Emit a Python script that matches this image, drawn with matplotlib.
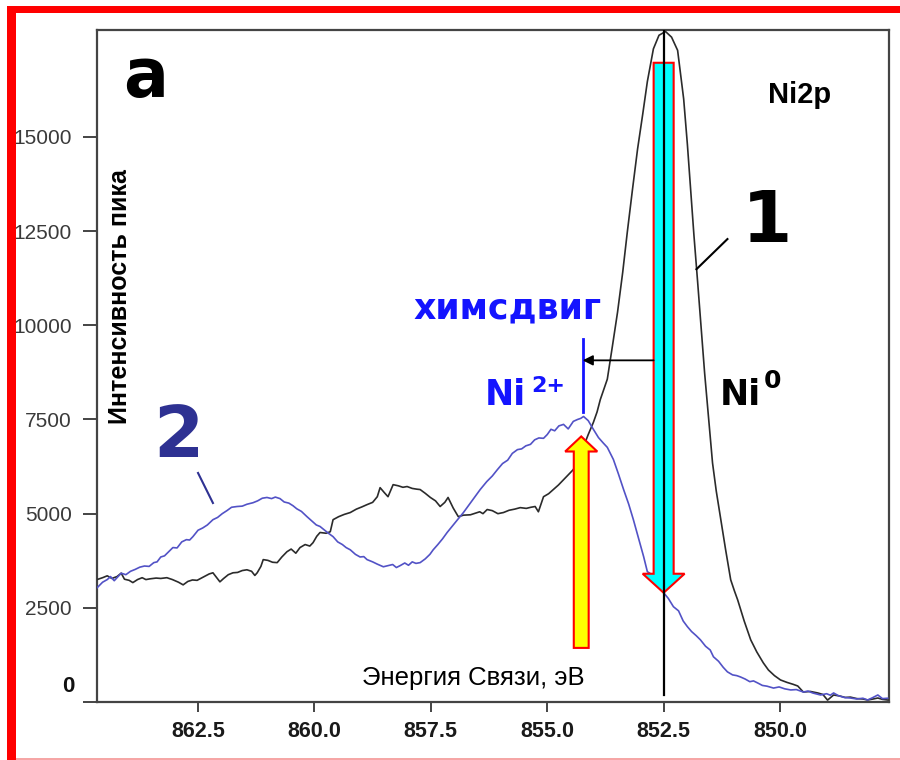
import numpy as np
import matplotlib
matplotlib.use("Agg")
import matplotlib.pyplot as plt
from matplotlib.patches import FancyArrow, Rectangle

# Ni2p spectra: binding energy (eV) and peak intensity
# curve 1 - metallic Ni, curve 2 - oxidised sample
energy_1 = [
    864.67, 864.55, 864.45, 864.35, 864.24, 864.15, 864.08, 863.98, 863.90, 863.80,
    863.70, 863.62, 863.53, 863.40, 863.30, 863.17, 863.05, 862.92, 862.82, 862.72,
    862.62, 862.52, 862.46, 862.35, 862.26, 862.18, 862.10, 862.03, 861.95, 861.85,
    861.75, 861.65, 861.55, 861.45, 861.35, 861.28, 861.23, 861.15, 861.10, 861.00,
    860.90, 860.80, 860.70, 860.59, 860.50, 860.40, 860.31, 860.20, 860.10, 860.03,
    859.95, 859.88, 859.75, 859.66, 859.60, 859.48, 859.36, 859.23, 859.10, 858.98,
    858.87, 858.75, 858.65, 858.59, 858.50, 858.42, 858.31, 858.20, 858.10, 858.01,
    857.90, 857.80, 857.73, 857.62, 857.51, 857.40, 857.30, 857.20, 857.13, 857.02,
    856.91, 856.80, 856.65, 856.55, 856.45, 856.38, 856.29, 856.18, 856.06, 855.94,
    855.82, 855.70, 855.58, 855.45, 855.35, 855.26, 855.19, 855.08, 854.97, 854.87,
    854.76, 854.65, 854.55, 854.44, 854.33, 854.22, 854.12, 854.01, 853.93, 853.86,
    853.71, 853.60, 853.49, 853.38, 853.28, 853.17, 853.06, 852.95, 852.85, 852.72,
    852.60, 852.46, 852.33, 852.20, 852.07, 851.99, 851.92, 851.85, 851.77, 851.62,
    851.45, 851.37, 851.28, 851.17, 851.06, 850.98, 850.91, 850.77, 850.63, 850.50,
    850.36, 850.25, 850.12, 849.99, 849.85, 849.72, 849.62, 849.50, 849.35, 849.19,
    849.08, 848.98, 848.85, 848.72, 848.60, 848.49, 848.35, 848.22, 848.12, 848.00,
    847.90, 847.80, 847.69]
intensity_1 = [
    3250, 3300, 3350, 3280, 3330, 3420, 3260, 3230, 3170, 3250,
    3300, 3250, 3270, 3290, 3280, 3300, 3250, 3180, 3110, 3200,
    3240, 3230, 3270, 3340, 3400, 3430, 3300, 3190, 3280, 3380,
    3430, 3440, 3490, 3510, 3470, 3360, 3430, 3600, 3780, 3760,
    3710, 3700, 3850, 3990, 4060, 3950, 4100, 4180, 4140, 4230,
    4400, 4500, 4480, 4520, 4840, 4920, 4980, 5030, 5120, 5180,
    5240, 5300, 5450, 5690, 5560, 5450, 5770, 5740, 5700, 5720,
    5670, 5650, 5640, 5540, 5430, 5340, 5190, 5300, 5430, 5150,
    4920, 4960, 4970, 5010, 5050, 5000, 5110, 5080, 5000, 5030,
    5090, 5120, 5160, 5140, 5170, 5190, 5050, 5450, 5530, 5640,
    5760, 5900, 6030, 6170, 6450, 6780, 7100, 7420, 7700, 8030,
    8570, 9450, 10350, 11400, 12480, 13600, 14680, 15600, 16470, 17340,
    17700, 17800, 17650, 17300, 16010, 14800, 13590, 12400, 11150, 8735,
    6345, 5600, 4900, 4050, 3245, 2950, 2710, 2150, 1650, 1330,
    1040, 850, 700, 585, 520, 470, 425, 265, 280, 240,
    200, 50, 186, 160, 120, 130, 90, 80, 53, 80,
    106, 70, 53]

energy_2 = [
    864.67, 864.55, 864.45, 864.38, 864.30, 864.24, 864.15, 864.05, 863.95, 863.85,
    863.75, 863.65, 863.55, 863.45, 863.38, 863.30, 863.22, 863.12, 863.04, 862.95,
    862.85, 862.75, 862.68, 862.61, 862.50, 862.40, 862.30, 862.18, 862.08, 861.98,
    861.88, 861.78, 861.66, 861.55, 861.45, 861.32, 861.22, 861.12, 861.02, 860.92,
    860.84, 860.74, 860.65, 860.55, 860.46, 860.38, 860.28, 860.16, 860.05, 859.96,
    859.88, 859.78, 859.70, 859.60, 859.50, 859.40, 859.32, 859.23, 859.12, 859.02,
    858.94, 858.87, 858.75, 858.65, 858.52, 858.42, 858.32, 858.24, 858.16, 858.06,
    857.98, 857.90, 857.82, 857.73, 857.62, 857.52, 857.45, 857.35, 857.25, 857.15,
    857.02, 856.92, 856.80, 856.70, 856.58, 856.44, 856.30, 856.18, 856.07, 855.96,
    855.85, 855.75, 855.64, 855.55, 855.46, 855.36, 855.27, 855.18, 855.08, 855.00,
    854.92, 854.84, 854.75, 854.65, 854.55, 854.44, 854.35, 854.28, 854.22, 854.12,
    854.01, 853.90, 853.80, 853.71, 853.58, 853.47, 853.36, 853.25, 853.15, 853.04,
    852.93, 852.85, 852.75, 852.63, 852.56, 852.50, 852.40, 852.29, 852.18, 852.08,
    851.99, 851.90, 851.80, 851.71, 851.60, 851.50, 851.43, 851.32, 851.22, 851.13,
    851.02, 850.93, 850.85, 850.75, 850.65, 850.57, 850.48, 850.38, 850.28, 850.14,
    850.02, 849.90, 849.77, 849.65, 849.50, 849.40, 849.30, 849.13, 849.00, 848.92,
    848.85, 848.75, 848.62, 848.49, 848.35, 848.22, 848.12, 848.02, 847.90, 847.80,
    847.69]
intensity_2 = [
    3030, 3180, 3250, 3330, 3220, 3300, 3420, 3380, 3470, 3520,
    3580, 3610, 3600, 3700, 3720, 3850, 3880, 4000, 4100, 4090,
    4250, 4310, 4300, 4390, 4560, 4620, 4700, 4840, 4900, 5000,
    5080, 5170, 5190, 5200, 5250, 5290, 5340, 5410, 5430, 5400,
    5440, 5400, 5310, 5280, 5210, 5130, 5060, 4920, 4800, 4700,
    4660, 4560, 4480, 4390, 4250, 4180, 4100, 4040, 3920, 3850,
    3860, 3780, 3720, 3660, 3590, 3620, 3650, 3570, 3620, 3690,
    3630, 3720, 3680, 3700, 3800, 3920, 4040, 4180, 4330, 4500,
    4700, 4850, 5030, 5200, 5400, 5640, 5850, 6000, 6170, 6330,
    6420, 6600, 6700, 6720, 6800, 6840, 6960, 7010, 7000, 7100,
    7240, 7200, 7330, 7370, 7250, 7450, 7500, 7530, 7580, 7470,
    7240, 7020, 6880, 6760, 6440, 6050, 5640, 5250, 4840, 4350,
    3860, 3460, 3380, 3330, 3100, 2900, 2750, 2530, 2420, 2150,
    2000, 1870, 1760, 1650, 1480, 1380, 1200, 1080, 920, 800,
    720, 700, 665, 610, 540, 560, 505, 440, 420, 370,
    400, 350, 320, 330, 265, 290, 240, 186, 220, 180,
    240, 170, 120, 106, 80, 100, 53, 110, 186, 90,
    100]

x_ticks = [862.5, 860.0, 857.5, 855.0, 852.5, 850.0]
y_ticks = [0, 2500, 5000, 7500, 10000, 12500, 15000]
x_range = (864.67, 847.66)
y_range = (0, 17840)

e_ni0 = 852.5     # Ni0 peak
e_ni2 = 854.24    # Ni2+ maximum of curve 2
shift_level = 9070
yellow_from, yellow_to = 1436, 7050
cyan_from = 16970

c_black = "#2b2b2b"
c_blue = "#5252c6"
c_dark_blue = "#2e3192"
c_bright_blue = "#1414ff"
comic = "DejaVu Sans"
arial = "Liberation Sans"

fig = plt.figure(figsize=(9, 7.6), dpi=100)
ax = fig.add_axes([97 / 900, 1 - 702 / 760, 792 / 900, 672 / 760])

ax.plot(energy_1, intensity_1, color=c_black, lw=1.2, zorder=3)
ax.plot(energy_2, intensity_2, color=c_blue, lw=1.2, zorder=3)

ax.set_xlim(*x_range)
ax.set_ylim(*y_range)
ax.set_xticks(x_ticks)
ax.set_xticklabels(["%.1f" % v for v in x_ticks], fontfamily=arial,
                   fontweight="bold", fontsize=15.5, color="#1a1a1a")
ax.set_yticks(y_ticks)
ax.set_yticklabels([""] + [str(v) for v in y_ticks[1:]], fontfamily=arial,
                   fontsize=15, color="#3a3a3a")
ax.tick_params(axis="x", direction="out", length=7.2, width=1.4,
               color="#444444", pad=6.5)
ax.tick_params(axis="y", direction="out", length=10, width=1.4,
               color="#444444", pad=8)
for s in ax.spines.values():
    s.set_color("#444444")
    s.set_linewidth(1.6)

# zero label sits a little above its tick, in bold
ax.annotate("0", xy=(0, 0), xycoords=("axes fraction", "data"),
            xytext=(-20.9, 10.8), textcoords="offset points",
            ha="center", va="center", fontfamily=arial, fontweight="bold",
            fontsize=16, color="#111111", annotation_clip=False)

# block arrows: Ni0 (cyan, down) and Ni2+ (yellow, up)
cyan_tip = np.interp(e_ni0, energy_2[::-1], intensity_2[::-1])
ax.add_patch(FancyArrow(e_ni0, cyan_from, 0, cyan_tip - cyan_from,
                        width=0.43, head_width=0.90, head_length=505,
                        length_includes_head=True, fc="#00ffff", ec="red",
                        lw=1.5, zorder=4))
ax.add_patch(FancyArrow(e_ni2 + 0.03, yellow_from, 0, yellow_to - yellow_from,
                        width=0.32, head_width=0.69, head_length=400,
                        length_includes_head=True, fc="#ffff00", ec="red",
                        lw=1.5, zorder=4))
ax.plot([e_ni0, e_ni0], [186, y_range[1]], color="black", lw=1.6, zorder=5)

# chemical shift marker
ax.plot([e_ni2, e_ni2], [7690, 9650], color=c_bright_blue, lw=2, zorder=5)
ax.annotate("", xy=(e_ni2, shift_level), xytext=(852.715, shift_level),
            arrowprops=dict(arrowstyle="-|>", color="black", lw=1.3,
                            mutation_scale=15, shrinkA=0, shrinkB=0),
            zorder=5)

# leader lines for curve numbers
ax.plot([851.13, 851.795], [12290, 11490], color="black", lw=1.5, zorder=5)
ax.plot([862.5, 862.18], [6080, 5283], color=c_dark_blue, lw=1.5, zorder=5)

tr = ax.transAxes
ax.text(0.0619, 0.9003, "а", transform=tr, ha="center", va="baseline",
        fontfamily=comic, fontweight="bold", fontsize=48, color="black")
ax.text(0.8472, 0.8914, "Ni2p", transform=tr, ha="left", va="baseline",
        fontfamily=arial, fontweight="bold", fontsize=21, color="black")
ax.text(0.8460, 0.6845, "1", transform=tr, ha="center", va="baseline",
        fontfamily=comic, fontweight="bold", fontsize=52, color="black")
ax.text(0.1023, 0.3646, "2", transform=tr, ha="center", va="baseline",
        fontfamily=comic, fontweight="bold", fontsize=52, color=c_dark_blue)
ax.text(0.5183, 0.5714, "химсдвиг", transform=tr, ha="center", va="baseline",
        fontfamily=comic, fontweight="bold", fontsize=25, color=c_bright_blue)
ax.text(0.4899, 0.4420, "Ni", transform=tr, ha="left", va="baseline",
        fontfamily=comic, fontweight="bold", fontsize=25, color=c_bright_blue)
ax.text(0.5480, 0.4613, "2+", transform=tr, ha="left", va="baseline",
        fontfamily=comic, fontweight="bold", fontsize=16, color=c_bright_blue)
ax.text(0.7866, 0.4420, "Ni", transform=tr, ha="left", va="baseline",
        fontfamily=comic, fontweight="bold", fontsize=25, color="black")
ax.text(0.8420, 0.4673, "0", transform=tr, ha="left", va="baseline",
        fontfamily=comic, fontweight="bold", fontsize=18, color="black")
ax.text(0.029, 0.604, "Интенсивность пика", transform=tr, rotation=90,
        ha="center", va="center", fontfamily=arial, fontweight="bold",
        fontsize=18, color="black")
ax.text(0.4754, 0.0253, "Энергия Связи, эВ", transform=tr, ha="center",
        va="baseline", fontfamily=arial, fontsize=18.5, color="black")

# red frame
fig.patches.append(Rectangle((7 / 900, 0), 9 / 900, 754 / 760,
                             transform=fig.transFigure, fc="red", ec="none"))
fig.patches.append(Rectangle((7 / 900, 1 - 13 / 760), 893 / 900, 7 / 760,
                             transform=fig.transFigure, fc="red", ec="none"))
fig.patches.append(Rectangle((16 / 900, 0), 884 / 900, 2.5 / 760,
                             transform=fig.transFigure, fc="#f6a6a6", ec="none"))

fig.savefig("out.png", dpi=100)
